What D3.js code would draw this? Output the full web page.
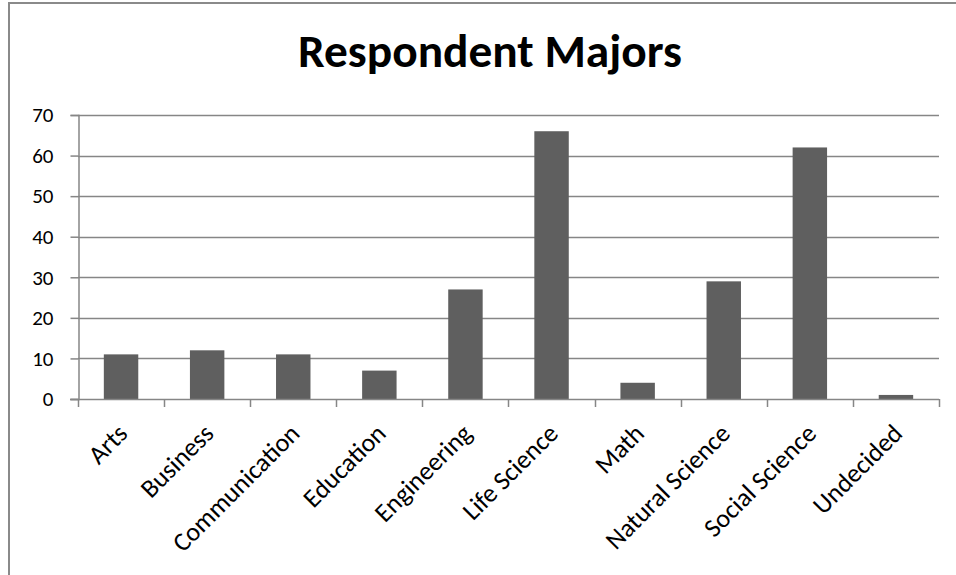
<!DOCTYPE html>
<html>
<head>
<meta charset="utf-8">
<script src="https://cdn.jsdelivr.net/npm/d3@7"></script>
<style>
  html, body { margin: 0; padding: 0; background: #fff; }
  svg { display: block; }
  text { font-family: Carlito, Calibri, Lato, "Open Sans", sans-serif; fill: #000; }
</style>
</head>
<body>
<svg id="chart" width="956" height="575"></svg>
<script>
// Survey responses by major
const categories = ["Arts", "Business", "Communication", "Education", "Engineering",
                    "Life Science", "Math", "Natural Science", "Social Science", "Undecided"];
const counts = [11, 12, 11, 7, 27, 66, 4, 29, 62, 1];
const yTicks = [0, 10, 20, 30, 40, 50, 60, 70];
const chartTitle = "Respondent Majors";

const W = 956, H = 575;
const plot = { left: 78, right: 939, top: 115, bottom: 399 };
const gridColor = "#868686";
const barColor = "#5f5f5f";
const fontStack = 'Carlito, Calibri, Lato, "Open Sans", sans-serif';

const svg = d3.select("#chart");

// chart frame
svg.append("rect")
  .attr("x", 9).attr("y", 3)
  .attr("width", W + 20).attr("height", H + 20)
  .attr("fill", "#fff")
  .attr("stroke", "#8a8a8a")
  .attr("stroke-width", 2);

const x = d3.scaleBand()
  .domain(categories)
  .range([plot.left, plot.right])
  .paddingInner(0.6)
  .paddingOuter(0.3);

const y = d3.scaleLinear()
  .domain([0, 70])
  .range([plot.bottom, plot.top]);

// horizontal gridlines
svg.append("g")
  .selectAll("line")
  .data(yTicks.filter(d => d > 0))
  .join("line")
  .attr("x1", plot.left).attr("x2", plot.right)
  .attr("y1", d => Math.round(y(d)) + 0.5)
  .attr("y2", d => Math.round(y(d)) + 0.5)
  .attr("stroke", gridColor)
  .attr("stroke-width", 1.5);

// bars
svg.append("g")
  .selectAll("rect")
  .data(categories.map((c, i) => ({ c, v: counts[i] })))
  .join("rect")
  .attr("x", d => x(d.c))
  .attr("width", x.bandwidth())
  .attr("y", d => y(d.v))
  .attr("height", d => y(0) - y(d.v))
  .attr("fill", barColor);

// y axis
const yAxis = svg.append("g")
  .attr("transform", `translate(${plot.left + 0.5},0)`)
  .call(d3.axisLeft(y).tickValues(yTicks).tickSize(8).tickPadding(17).tickFormat(d3.format("d")));
yAxis.attr("font-size", null).attr("font-family", null);
yAxis.select(".domain").attr("stroke", gridColor).attr("stroke-width", 1.5);
yAxis.selectAll(".tick line").attr("stroke", gridColor).attr("stroke-width", 1.5);
yAxis.selectAll(".tick text")
  .attr("fill", "#000")
  .style("font-size", "21px")
  .style("font-family", fontStack);

// x axis line with tick marks on category boundaries
const step = x.step();
const bounds = categories.map(c => x(c) - step * x.paddingOuter()).concat([plot.right]);
svg.append("line")
  .attr("x1", plot.left - 8).attr("x2", plot.right)
  .attr("y1", plot.bottom + 0.5).attr("y2", plot.bottom + 0.5)
  .attr("stroke", gridColor).attr("stroke-width", 1.5);
svg.append("g")
  .selectAll("line")
  .data(bounds)
  .join("line")
  .attr("x1", d => Math.round(d) + 0.5).attr("x2", d => Math.round(d) + 0.5)
  .attr("y1", plot.bottom).attr("y2", plot.bottom + 8)
  .attr("stroke", gridColor).attr("stroke-width", 1.5);

// category labels, rotated
svg.append("g")
  .selectAll("text")
  .data(categories)
  .join("text")
  .attr("text-anchor", "end")
  .style("font-size", "26px")
  .attr("transform", c => `translate(${x(c) + x.bandwidth() / 2 + 8},${plot.bottom + 36}) rotate(-45)`)
  .text(c => c);

// title, sized to its measured width
const title = svg.append("text")
  .attr("x", 490).attr("y", 67)
  .attr("text-anchor", "middle")
  .attr("font-weight", "bold")
  .style("font-size", "36px")
  .text(chartTitle);
const tw = title.node().getComputedTextLength();
title.style("font-size", (36 * 384 / tw) + "px");
</script>
</body>
</html>
